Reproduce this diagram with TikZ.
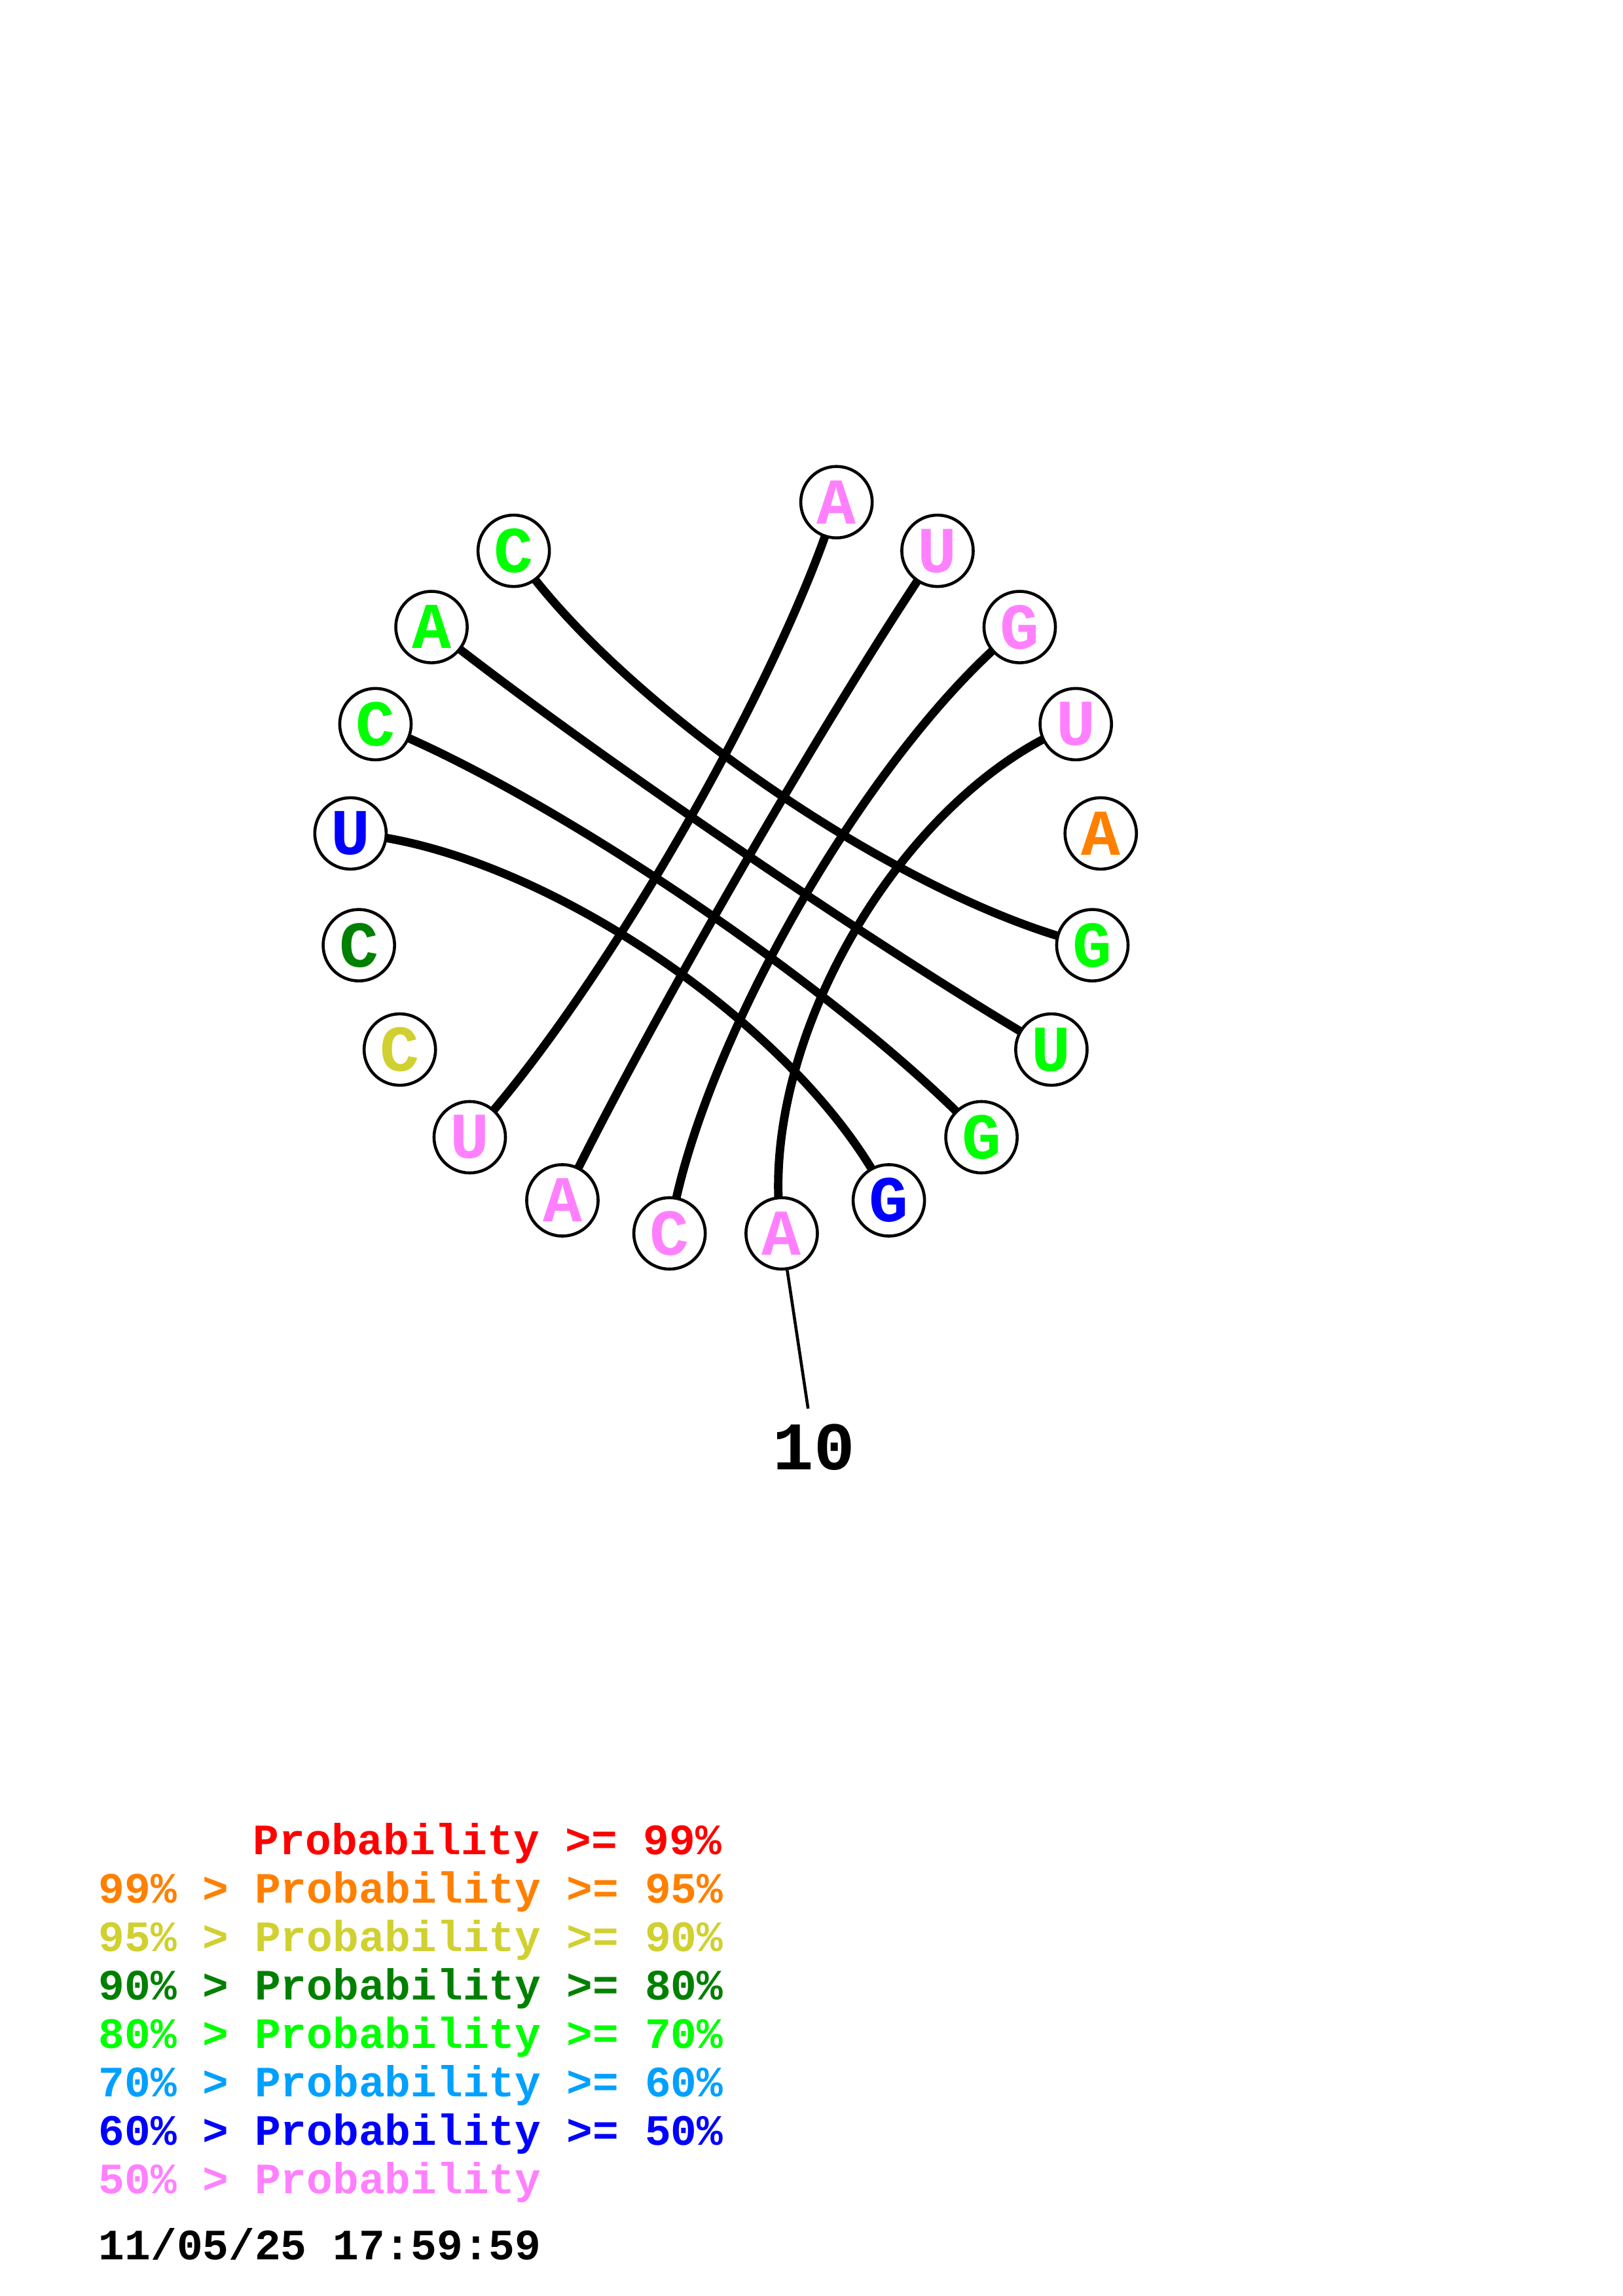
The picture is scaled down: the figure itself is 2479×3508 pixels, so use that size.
\documentclass[tikz,border=0pt]{standalone}
\usepackage{fontspec}
\setmonofont{Liberation Mono}
\usetikzlibrary{calc}
\pgfdeclarelayer{background}
\pgfsetlayers{background,main}
\definecolor{cpink}{RGB}{255,128,255}
\definecolor{cgreen}{RGB}{0,255,0}
\definecolor{cdkgreen}{RGB}{0,128,0}
\definecolor{cyellow}{RGB}{208,208,48}
\definecolor{corange}{RGB}{255,128,0}
\definecolor{cblue}{RGB}{0,0,255}
\definecolor{cltblue}{RGB}{0,160,255}
\definecolor{cred}{RGB}{255,0,0}
\begin{document}
\begin{tikzpicture}[x=0.24013pt,y=-0.24013pt,
  base/.style={circle,draw=black,line width=1.1pt,fill=white,minimum size=26.2pt,inner sep=0pt,font=\fontsize{24}{24}\ttfamily\bfseries},
  pairarc/.style={line width=3.1pt,black},
  tickline/.style={line width=1.1pt,black},
  legend/.style={anchor=base west,inner sep=0pt,font=\fontsize{15.9}{18}\ttfamily\bfseries}]
\useasboundingbox (0,0) rectangle (2479,3508);
\coordinate (ctr) at (1108.3,1316.3);
\foreach \i/\l/\c in {1/C/cgreen,2/A/cgreen,3/C/cgreen,4/U/cblue,5/C/cdkgreen,6/C/cyellow,7/U/cpink,8/A/cpink,9/C/cpink,10/A/cpink,11/G/cblue,12/G/cgreen,13/U/cgreen,14/G/cgreen,15/A/corange,16/U/cpink,17/G/cpink,18/U/cpink,19/A/cpink}{
  \pgfmathsetmacro\ang{124.2857+(\i-1)*360/21}
  \node[base,text=\c] (n\i) at ({1108.3+574.6*cos(\ang)},{1316.3-574.6*sin(\ang)}) {\l};
}
\begin{pgfonlayer}{background}
\foreach \a/\b in {1/14,2/13,3/12,4/11,19/7,18/8,17/9,16/10}{
  \draw[pairarc] (n\a.center) .. controls ($(n\a.center)!0.5!(ctr)$) and ($(n\b.center)!0.5!(ctr)$) .. (n\b.center);
}
\end{pgfonlayer}
\coordinate (tick10) at ({1108.3+845.4*cos(278.5714)},{1316.3-845.4*sin(278.5714)});
\draw[tickline] (n10) -- (tick10);
\node[font=\fontsize{25}{25}\ttfamily\bfseries,inner sep=0pt] (lbl10) at ({1108.3+905*cos(278.5714)},{1316.3-905*sin(278.5714)}) {10};
% legend
\node[legend,text=cred] (lg0) at (386,2833.3) {Probability~>=~99\%};
\node[legend,text=corange] (lg1) at (150,2907.3) {99\%~>~Probability~>=~95\%};
\node[legend,text=cyellow] (lg2) at (150,2981.3) {95\%~>~Probability~>=~90\%};
\node[legend,text=cdkgreen] (lg3) at (150,3055.3) {90\%~>~Probability~>=~80\%};
\node[legend,text=cgreen] (lg4) at (150,3129.3) {80\%~>~Probability~>=~70\%};
\node[legend,text=cltblue] (lg5) at (150,3203.3) {70\%~>~Probability~>=~60\%};
\node[legend,text=cblue] (lg6) at (150,3277.3) {60\%~>~Probability~>=~50\%};
\node[legend,text=cpink] (lg7) at (150,3351.3) {50\%~>~Probability};
\node[legend,text=black] (date) at (150,3452.7) {11/05/25 17:59:59};
\end{tikzpicture}
\end{document}
